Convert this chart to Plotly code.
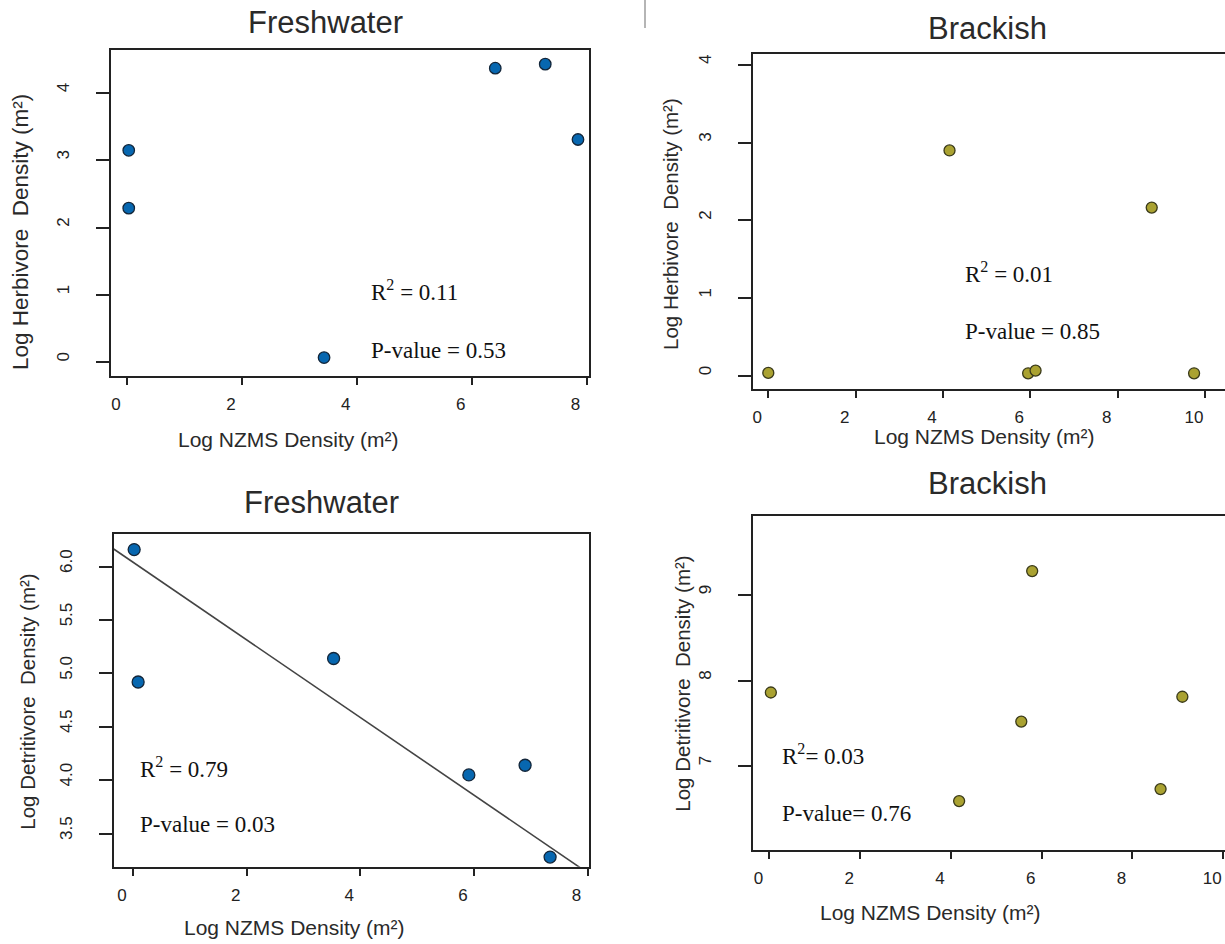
import plotly.graph_objects as go

W, H = 1225, 944

# ---------------- data ----------------
fw_herb_x = [0.03, 0.03, 3.43, 6.41, 7.28, 7.85]
fw_herb_y = [3.15, 2.29, 0.07, 4.37, 4.43, 3.31]

br_herb_x = [0.00, 4.15, 5.95, 6.12, 8.78, 9.75]
br_herb_y = [0.04, 2.90, 0.035, 0.07, 2.165, 0.035]

fw_det_x = [0.02, 0.09, 3.53, 5.91, 6.90, 7.34]
fw_det_y = [6.16, 4.92, 5.14, 4.05, 4.14, 3.28]

br_det_x = [0.03, 4.18, 5.55, 5.79, 8.62, 9.10]
br_det_y = [7.86, 6.59, 7.52, 9.28, 6.73, 7.81]

fw_det_fit_intercept = 6.042
fw_det_fit_slope = -0.3636

panel_titles = ["Freshwater", "Brackish", "Freshwater", "Brackish"]
x_title = "Log NZMS Density (m²)"
y_titles = ["Log Herbivore\u00a0 Density (m²)", "Log Herbivore\u00a0 Density (m²)",
            "Log Detritivore\u00a0 Density (m²)", "Log Detritivore\u00a0 Density (m²)"]
r2_texts = ["R<sup>2</sup> = 0.11", "R<sup>2</sup> = 0.01", "R<sup>2</sup> = 0.79", "R<sup>2</sup>= 0.03"]
p_texts = ["P-value = 0.53", "P-value = 0.85", "P-value = 0.03", "P-value= 0.76"]

x_ticks_fw = [0, 2, 4, 6, 8]
x_ticks_br = [0, 2, 4, 6, 8, 10]
y_ticks_herb = [0, 1, 2, 3, 4]
y_ticks_fw_det = [3.5, 4.0, 4.5, 5.0, 5.5, 6.0]
y_ticks_br_det = [7, 8, 9]

# ---------------- styling ----------------
BLUE = "#0767b0"
BLUE_EDGE = "#13263a"
OLIVE = "#aaa231"
OLIVE_EDGE = "#3a3a1a"
INK = "#222222"
SANS = "Liberation Sans, Arial, sans-serif"
SERIF = "Liberation Serif, Times New Roman, serif"


def px(x):
    return x / W


def py(y):
    return 1 - y / H


fig = go.Figure()

series = [
    (fw_herb_x, fw_herb_y, BLUE, BLUE_EDGE, 11.5, "x", "y"),
    (br_herb_x, br_herb_y, OLIVE, OLIVE_EDGE, 11, "x2", "y2"),
    (fw_det_x, fw_det_y, BLUE, BLUE_EDGE, 12, "x3", "y3"),
    (br_det_x, br_det_y, OLIVE, OLIVE_EDGE, 11, "x4", "y4"),
]

x_ranges = [[-0.284, 8.047], [-0.357, 10.458], [-0.34, 8.03], [-0.37, 10.04]]
y_ranges = [[-0.204, 4.64], [-0.167, 4.14], [3.19, 6.306], [6.018, 9.924]]

# regression line (bottom-left panel)
line_x = [x_ranges[2][0], x_ranges[2][1]]
line_y = [fw_det_fit_intercept + fw_det_fit_slope * v for v in line_x]
fig.add_trace(go.Scatter(x=line_x, y=line_y, mode="lines",
                         line=dict(color="#444444", width=1.6),
                         xaxis="x3", yaxis="y3", hoverinfo="skip"))

for xs, ys, col, edge, size, xa, ya in series:
    fig.add_trace(go.Scatter(x=xs, y=ys, mode="markers",
                             marker=dict(color=col, size=size,
                                         line=dict(color=edge, width=1.3)),
                             xaxis=xa, yaxis=ya))

# plot boxes in pixels: (left, right, top, bottom)
boxes = [
    (110.7, 589.3, 50, 376),
    (752.7, 1225, 54, 389),
    (113.7, 589.3, 534, 866.7),
    (752.7, 1225, 516, 850),
]
x_tickvals = [x_ticks_fw, x_ticks_br, x_ticks_fw, x_ticks_br]
y_tickvals = [y_ticks_herb, y_ticks_herb, y_ticks_fw_det, y_ticks_br_det]
y_formats = ["d", "d", ".1f", "d"]

layout = dict(
    width=W, height=H,
    margin=dict(l=0, r=0, t=0, b=0),
    paper_bgcolor="white", plot_bgcolor="white",
    showlegend=False,
)

for i in range(4):
    l, r, t, b = boxes[i]
    sx = "" if i == 0 else str(i + 1)
    right_panel = i in (1, 3)
    layout["xaxis" + sx] = dict(
        domain=[px(l), px(r)], range=x_ranges[i], anchor="y" + sx,
        showgrid=False, zeroline=False,
        showline=True, mirror=True, linecolor=INK, linewidth=1.7,
        ticks="outside", ticklen=7, tickwidth=1.5, tickcolor=INK,
        tickmode="array", tickvals=x_tickvals[i],
        tickfont=dict(family=SANS, size=17, color=INK),
        ticklabelshift=-11, ticklabelstandoff=5,
        automargin=False, fixedrange=True,
    )
    layout["yaxis" + sx] = dict(
        domain=[py(b), py(t)], range=y_ranges[i], anchor="x" + sx,
        showgrid=False, zeroline=False,
        showline=True, mirror=(not right_panel), linecolor=INK, linewidth=1.7,
        ticks="outside", ticklen=13, tickwidth=1.5, tickcolor=INK,
        tickmode="array", tickvals=y_tickvals[i], tickformat=y_formats[i],
        tickangle=-90,
        tickfont=dict(family=SANS, size=17, color=INK),
        ticklabelshift=-3, ticklabelstandoff=20,
        automargin=False, fixedrange=True,
    )

annotations = []

# panel titles
title_pos = [(325, 22.5), (987, 28), (321, 502.5), (987, 484)]
for (tx, ty), txt in zip(title_pos, panel_titles):
    annotations.append(dict(x=px(tx), y=py(ty), xref="paper", yref="paper",
                            text=txt, showarrow=False, xanchor="center", yanchor="middle",
                            font=dict(family=SANS, size=31, color="#2a2a2a")))

# x-axis titles
xt_pos = [(288.5, 439), (984, 436), (294, 927), (930, 912)]
for tx, ty in xt_pos:
    annotations.append(dict(x=px(tx), y=py(ty), xref="paper", yref="paper",
                            text=x_title, showarrow=False, xanchor="center", yanchor="middle",
                            font=dict(family=SANS, size=21, color="#2a2a2a")))

# y-axis titles
yt_pos = [(20, 232), (670, 224), (26.7, 702), (681.7, 684)]
yt_size = [22.5, 20.5, 20.5, 20.5]
for (tx, ty), txt, fs in zip(yt_pos, y_titles, yt_size):
    annotations.append(dict(x=px(tx), y=py(ty), xref="paper", yref="paper",
                            text=txt, showarrow=False, xanchor="center", yanchor="middle",
                            textangle=-90,
                            font=dict(family=SANS, size=fs, color="#2a2a2a")))

# statistics text (data coordinates)
r2_pos = [(4.21, 1.07), (4.45, 1.33), (0.09, 4.12), (0.23, 7.13)]
p_pos = [(4.21, 0.17), (4.45, 0.57), (0.09, 3.585), (0.23, 6.45)]
for i in range(4):
    sx = "" if i == 0 else str(i + 1)
    annotations.append(dict(x=r2_pos[i][0], y=r2_pos[i][1], xref="x" + sx, yref="y" + sx,
                            text=r2_texts[i], showarrow=False, xanchor="left", yanchor="middle",
                            font=dict(family=SERIF, size=23, color="#111111")))
    annotations.append(dict(x=p_pos[i][0], y=p_pos[i][1], xref="x" + sx, yref="y" + sx,
                            text=p_texts[i], showarrow=False, xanchor="left", yanchor="middle",
                            font=dict(family=SERIF, size=23, color="#111111")))

layout["annotations"] = annotations

# thin separator fragment at the top of the page
layout["shapes"] = [dict(type="line", xref="paper", yref="paper",
                         x0=px(645), x1=px(645), y0=1, y1=py(28),
                         line=dict(color="#b5b5b5", width=2))]

fig.update_layout(**layout)
fig.write_html("out.html")
